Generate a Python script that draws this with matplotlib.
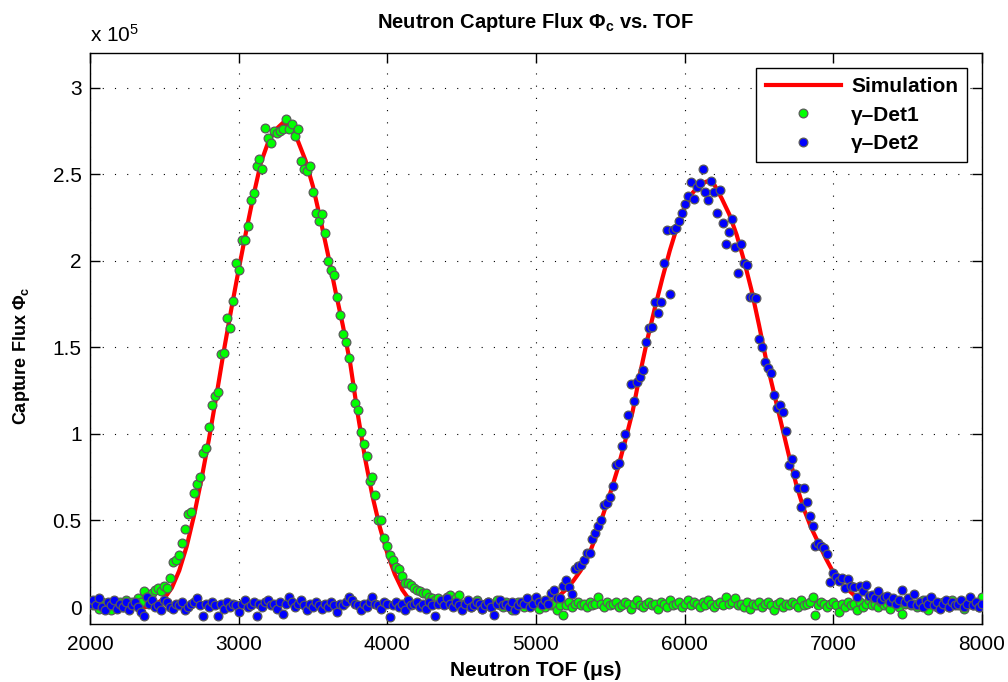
import numpy as np
import matplotlib
matplotlib.use("Agg")
import matplotlib.pyplot as plt
from matplotlib.ticker import FixedLocator, FuncFormatter

# --- fonts (Helvetica-like, with bold mathtext for the subscripts) ---
plt.rcParams['font.family'] = ['Liberation Sans', 'DejaVu Sans']
plt.rcParams['mathtext.fontset'] = 'custom'
plt.rcParams['mathtext.rm'] = 'Liberation Sans'
plt.rcParams['mathtext.bf'] = 'Liberation Sans:bold'
plt.rcParams['mathtext.it'] = 'Liberation Sans:italic'

SCALE = 1e5  # flux values below are in units of 1e5

# --- simulation, sampled every 50 us ---
tof_sim = np.arange(2000, 8001, 50)
sim_flux = [
    0, 0, 0, 0, 0, 0, 0, 0, 0.00, 0.02,
    0.05, 0.11, 0.21, 0.35, 0.53, 0.74, 0.97, 1.22, 1.48, 1.72,
    1.95, 2.17, 2.38, 2.57, 2.69, 2.76, 2.80, 2.77, 2.69, 2.58,
    2.43, 2.24, 2.04, 1.83, 1.63, 1.41, 1.12, 0.86, 0.64, 0.46,
    0.31, 0.19, 0.10, 0.04, 0.01, 0, 0, 0, 0, 0,
    0, 0, 0, 0, 0, 0, 0, 0, 0, 0,
    0.00, 0.01, 0.03, 0.06, 0.10, 0.15, 0.21, 0.29, 0.40, 0.53,
    0.66, 0.80, 0.96, 1.13, 1.35, 1.55, 1.73, 1.90, 2.06, 2.20,
    2.31, 2.39, 2.44, 2.46, 2.44, 2.36, 2.27, 2.15, 2.00, 1.83,
    1.63, 1.42, 1.24, 1.06, 0.88, 0.71, 0.57, 0.46, 0.37, 0.28,
    0.20, 0.14, 0.10, 0.06, 0.03, 0.01, 0, 0, 0, 0,
    0, 0, 0, 0, 0, 0, 0, 0, 0, 0,
    0,
]

# --- measured flux, one point every 20 us ---
tof_det = np.arange(2000, 8001, 20)

det1_flux = [
    0.03, 0.01, 0.02, -0.01, 0.03, 0.00, 0.02, -0.02, 0.02, 0.01,   # 2000
    0.03, 0.00, 0.04, 0.01, 0.03, 0.02, 0.05, 0.03, 0.09, 0.06,     # 2200
    0.05, 0.08, 0.10, 0.11, 0.09, 0.12, 0.11, 0.17, 0.26, 0.27,     # 2400
    0.30, 0.37, 0.45, 0.54, 0.55, 0.66, 0.71, 0.75, 0.89, 0.92,     # 2600
    1.04, 1.17, 1.22, 1.24, 1.46, 1.47, 1.67, 1.61, 1.77, 1.99,     # 2800
    1.95, 2.12, 2.12, 2.20, 2.35, 2.39, 2.55, 2.59, 2.53, 2.77,     # 3000
    2.71, 2.68, 2.75, 2.74, 2.75, 2.76, 2.82, 2.76, 2.79, 2.72,     # 3200
    2.76, 2.58, 2.53, 2.52, 2.55, 2.40, 2.28, 2.23, 2.27, 2.16,     # 3400
    2.00, 1.95, 1.92, 1.79, 1.69, 1.58, 1.53, 1.44, 1.27, 1.18,     # 3600
    1.14, 1.01, 0.94, 0.87, 0.73, 0.75, 0.65, 0.50, 0.50, 0.40,     # 3800
    0.35, 0.30, 0.27, 0.23, 0.22, 0.18, 0.14, 0.14, 0.13, 0.11,     # 4000
    0.10, 0.09, 0.08, 0.08, 0.06, 0.05, 0.04, 0.05, 0.03, 0.04,     # 4200
    0.06, 0.07, 0.03, 0.05, 0.07, 0.02,                             # 4400
    0.01, 0.03, 0.00, 0.02, 0.04, 0.01, -0.01, 0.02, 0.03, 0.00,    # 4520
    0.02, 0.04, 0.01, 0.00, 0.03, 0.02, -0.02, 0.01, 0.03, 0.02,    # 4720
    0.00, 0.03, 0.01, 0.04, 0.02, -0.01, 0.02, 0.00, 0.03, 0.01,    # 4920
    0.02, -0.02, 0.01, -0.045, 0.01, 0.03, 0.00, 0.02, 0.03, 0.01,  # 5120
    0.02, 0.00, 0.03, 0.01, 0.02, 0.055, 0.02, 0.00, 0.03, 0.01,    # 5320
    0.02, 0.03, 0.00, 0.01, 0.03, 0.02, -0.01, 0.02, 0.04, 0.01,    # 5520
    0.00, 0.02, 0.03, 0.01, 0.02, -0.01, 0.03, 0.02, 0.00, 0.04,    # 5720
    0.01, 0.02, 0.03, 0.00, 0.02, 0.04, 0.01, 0.03, 0.02, 0.00,     # 5920
    0.03, 0.01, 0.04, 0.02, 0.00, 0.02, 0.03, 0.01, 0.055, 0.02,    # 6120
    0.03, 0.05, 0.01, 0.02, 0.00, 0.03, -0.01, 0.02, 0.01, 0.03,    # 6320
    0.00, 0.02, 0.03, 0.01, -0.02, 0.02, 0.03, 0.00, 0.02, 0.01,    # 6520
    0.03, 0.02, 0.00, 0.04, 0.01, 0.02, 0.03, 0.06, -0.045, 0.01,   # 6720
    0.03, 0.02, 0.00, 0.02, 0.03, 0.01, -0.03, 0.02, 0.00, 0.03,    # 6920
    0.01, 0.02, -0.02, 0.03, 0.00, 0.02, 0.04, 0.01, 0.02, 0.00,    # 7120
    0.03, 0.01, 0.02, -0.01, 0.03, 0.02, 0.00, -0.04, 0.02, 0.03,   # 7320
    0.01, 0.02, 0.00, 0.03, 0.04, 0.01, -0.02, 0.02, 0.03, 0.00,    # 7520
    0.02, 0.03, 0.01, 0.00, 0.04, 0.02, 0.01, 0.03, -0.01, 0.02,    # 7720
    0.03, 0.01, 0.02, 0.00, 0.055,                                  # 7920
]

det2_flux = [
    0.02, 0.04, 0.01, 0.05, 0.00, -0.02, 0.03, 0.01, 0.04, -0.01,   # 2000
    0.02, 0.00, 0.03, -0.02, 0.01, 0.03, 0.00, -0.03, -0.05, 0.06,  # 2200
    0.02, 0.04, 0.00, 0.01, -0.02, 0.04, 0.03, 0.00, -0.01, 0.02,   # 2400
    0.01, 0.03, -0.02, 0.00, 0.02, 0.03, 0.05, 0.01, -0.05, 0.02,   # 2600
    0.00, 0.03, 0.01, -0.05, 0.02, -0.01, 0.03, 0.00, 0.02, 0.01,   # 2800
    -0.03, 0.02, 0.04, 0.00, 0.01, 0.03, -0.05, 0.02, 0.00, 0.03,   # 3000
    0.04, 0.01, 0.02, -0.01, 0.03, -0.04, 0.02, 0.055, 0.03, 0.00,  # 3200
    0.02, 0.04, 0.01, -0.02, 0.02, 0.00, 0.03, 0.01, -0.01, 0.02,   # 3400
    0.00, 0.03, 0.01, -0.03, 0.02, 0.01, 0.03, 0.055, 0.04, 0.02,   # 3600
    0.01, -0.02, 0.02, 0.00, 0.03, 0.055, 0.02, 0.01, -0.01, 0.03,  # 3800
    0.02, -0.06, 0.01, 0.03, 0.00, 0.02, -0.02, 0.04, 0.01, 0.02,   # 4000
    0.03, 0.00, 0.02, -0.01, 0.03, 0.01, -0.05, 0.02, 0.04, 0.01,   # 4200
    0.05, 0.02, 0.00, 0.03, 0.01, -0.02, 0.02, 0.04, 0.00, 0.01,    # 4400
    0.03, 0.02, -0.01, 0.01, 0.03, 0.00, -0.045, 0.02, 0.04, 0.01,  # 4600
    0.02, 0.00, 0.03, -0.02, 0.01, 0.03, 0.02, 0.05, 0.00, 0.02,    # 4800
    0.055, 0.03, 0.01, 0.04, 0.02, 0.08, 0.10,                      # 5000
    0.05, 0.05, 0.12, 0.155, 0.115, 0.075, 0.22, 0.235, 0.24, 0.27, # 5140
    0.31, 0.31, 0.395, 0.425, 0.47, 0.50, 0.59, 0.60, 0.635, 0.70,  # 5340
    0.82, 0.83, 0.93, 1.00, 1.11, 1.29, 1.19, 1.30, 1.33, 1.37,     # 5540
    1.53, 1.61, 1.62, 1.76, 1.70, 1.76, 1.99, 2.18, 1.81, 2.18,     # 5740
    2.19, 2.23, 2.28, 2.33, 2.375, 2.455, 2.36, 2.43, 2.45, 2.53,   # 5940
    2.40, 2.35, 2.46, 2.40, 2.28, 2.41, 2.22, 2.10, 2.165, 2.24,    # 6140
    2.08, 1.93, 2.10, 1.99, 1.975, 1.79, 1.79, 1.785, 1.55, 1.50,   # 6340
    1.415, 1.38, 1.35, 1.225, 1.15, 1.17, 1.125, 1.015, 0.82, 0.855,  # 6540
    0.77, 0.685, 0.58, 0.69, 0.605, 0.525, 0.47, 0.35, 0.37, 0.355,   # 6740
    0.34, 0.305, 0.145, 0.195, 0.175, 0.15, 0.17, 0.11, 0.16, 0.12,   # 6940
    0.115, 0.055, 0.12, 0.09, 0.125, 0.065, 0.07, 0.05, 0.09, 0.04,   # 7140
    0.06, 0.065, 0.03, 0.05, 0.02, 0.04, 0.097, 0.03, 0.05, 0.02,     # 7340
    0.077,                                                            # 7540
    0.01, 0.03, 0.00, 0.04, 0.02, 0.055, 0.01, 0.03, -0.01, 0.02,     # 7560
    0.04, 0.00, 0.03, 0.01, 0.02, 0.04, 0.00, 0.02, 0.055, 0.01,      # 7760
    0.03, 0.00, 0.02,                                                 # 7960
]

sim = np.array(sim_flux) * SCALE
det1 = np.array(det1_flux) * SCALE
det2 = np.array(det2_flux) * SCALE

fig = plt.figure(figsize=(10.08, 6.82), dpi=100)
ax = fig.add_axes([0.0893, 0.0846, 0.8849, 0.8372])

ax.plot(tof_sim, sim, color='red', linewidth=3.0, label='Simulation', zorder=2)
ax.plot(tof_det, det1, linestyle='none', marker='o', markersize=6.3,
        markerfacecolor=(0, 1, 0), markeredgecolor='#5a5a5a', markeredgewidth=0.9,
        label='γ–Det1', zorder=3)
ax.plot(tof_det, det2, linestyle='none', marker='o', markersize=6.3,
        markerfacecolor=(0, 0, 1), markeredgecolor='#5a5a5a', markeredgewidth=0.9,
        label='γ–Det2', zorder=4)

ax.set_xlim(2000, 8000)
ax.set_ylim(-0.1 * SCALE, 3.2 * SCALE)
ax.xaxis.set_major_locator(FixedLocator(np.arange(2000, 8001, 1000)))
ax.yaxis.set_major_locator(FixedLocator(np.arange(0, 3.01, 0.5) * SCALE))
ax.yaxis.set_major_formatter(FuncFormatter(lambda v, p: '%g' % round(v / SCALE, 2)))

# matlab-ish look: inward ticks on all sides, dotted grid
ax.tick_params(direction='in', length=7, width=1, top=True, right=True,
               labelsize=15, colors='black')
ax.tick_params(axis='x', pad=8)
ax.tick_params(axis='y', pad=6)
ax.grid(True, color='black', linewidth=0.8, linestyle=(0, (1, 10)))
for s in ax.spines.values():
    s.set_linewidth(1.0)

ax.set_title('Neutron Capture Flux Φ$_\\mathbf{c}$ vs. TOF', fontsize=14.5,
             fontweight='bold', pad=18)
ax.set_xlabel('Neutron TOF (μs)', fontsize=15, fontweight='bold', labelpad=5)
ax.set_ylabel('Capture Flux Φ$_\\mathbf{c}$', fontsize=13, fontweight='bold')
ax.yaxis.set_label_coords(-0.065, 0.47)
fig.text(90 / 1008, 1 - 42 / 682, 'x 10$^{5}$', fontsize=15, ha='left', va='baseline')

leg = ax.legend(loc='upper right', prop={'weight': 'bold', 'size': 15},
                frameon=True, fancybox=False, edgecolor='black', framealpha=1,
                handlelength=3.6, borderaxespad=0.7, labelspacing=0.45,
                borderpad=0.45, handletextpad=0.5)
leg.get_frame().set_linewidth(1.0)

fig.savefig('out.png', dpi=100)
